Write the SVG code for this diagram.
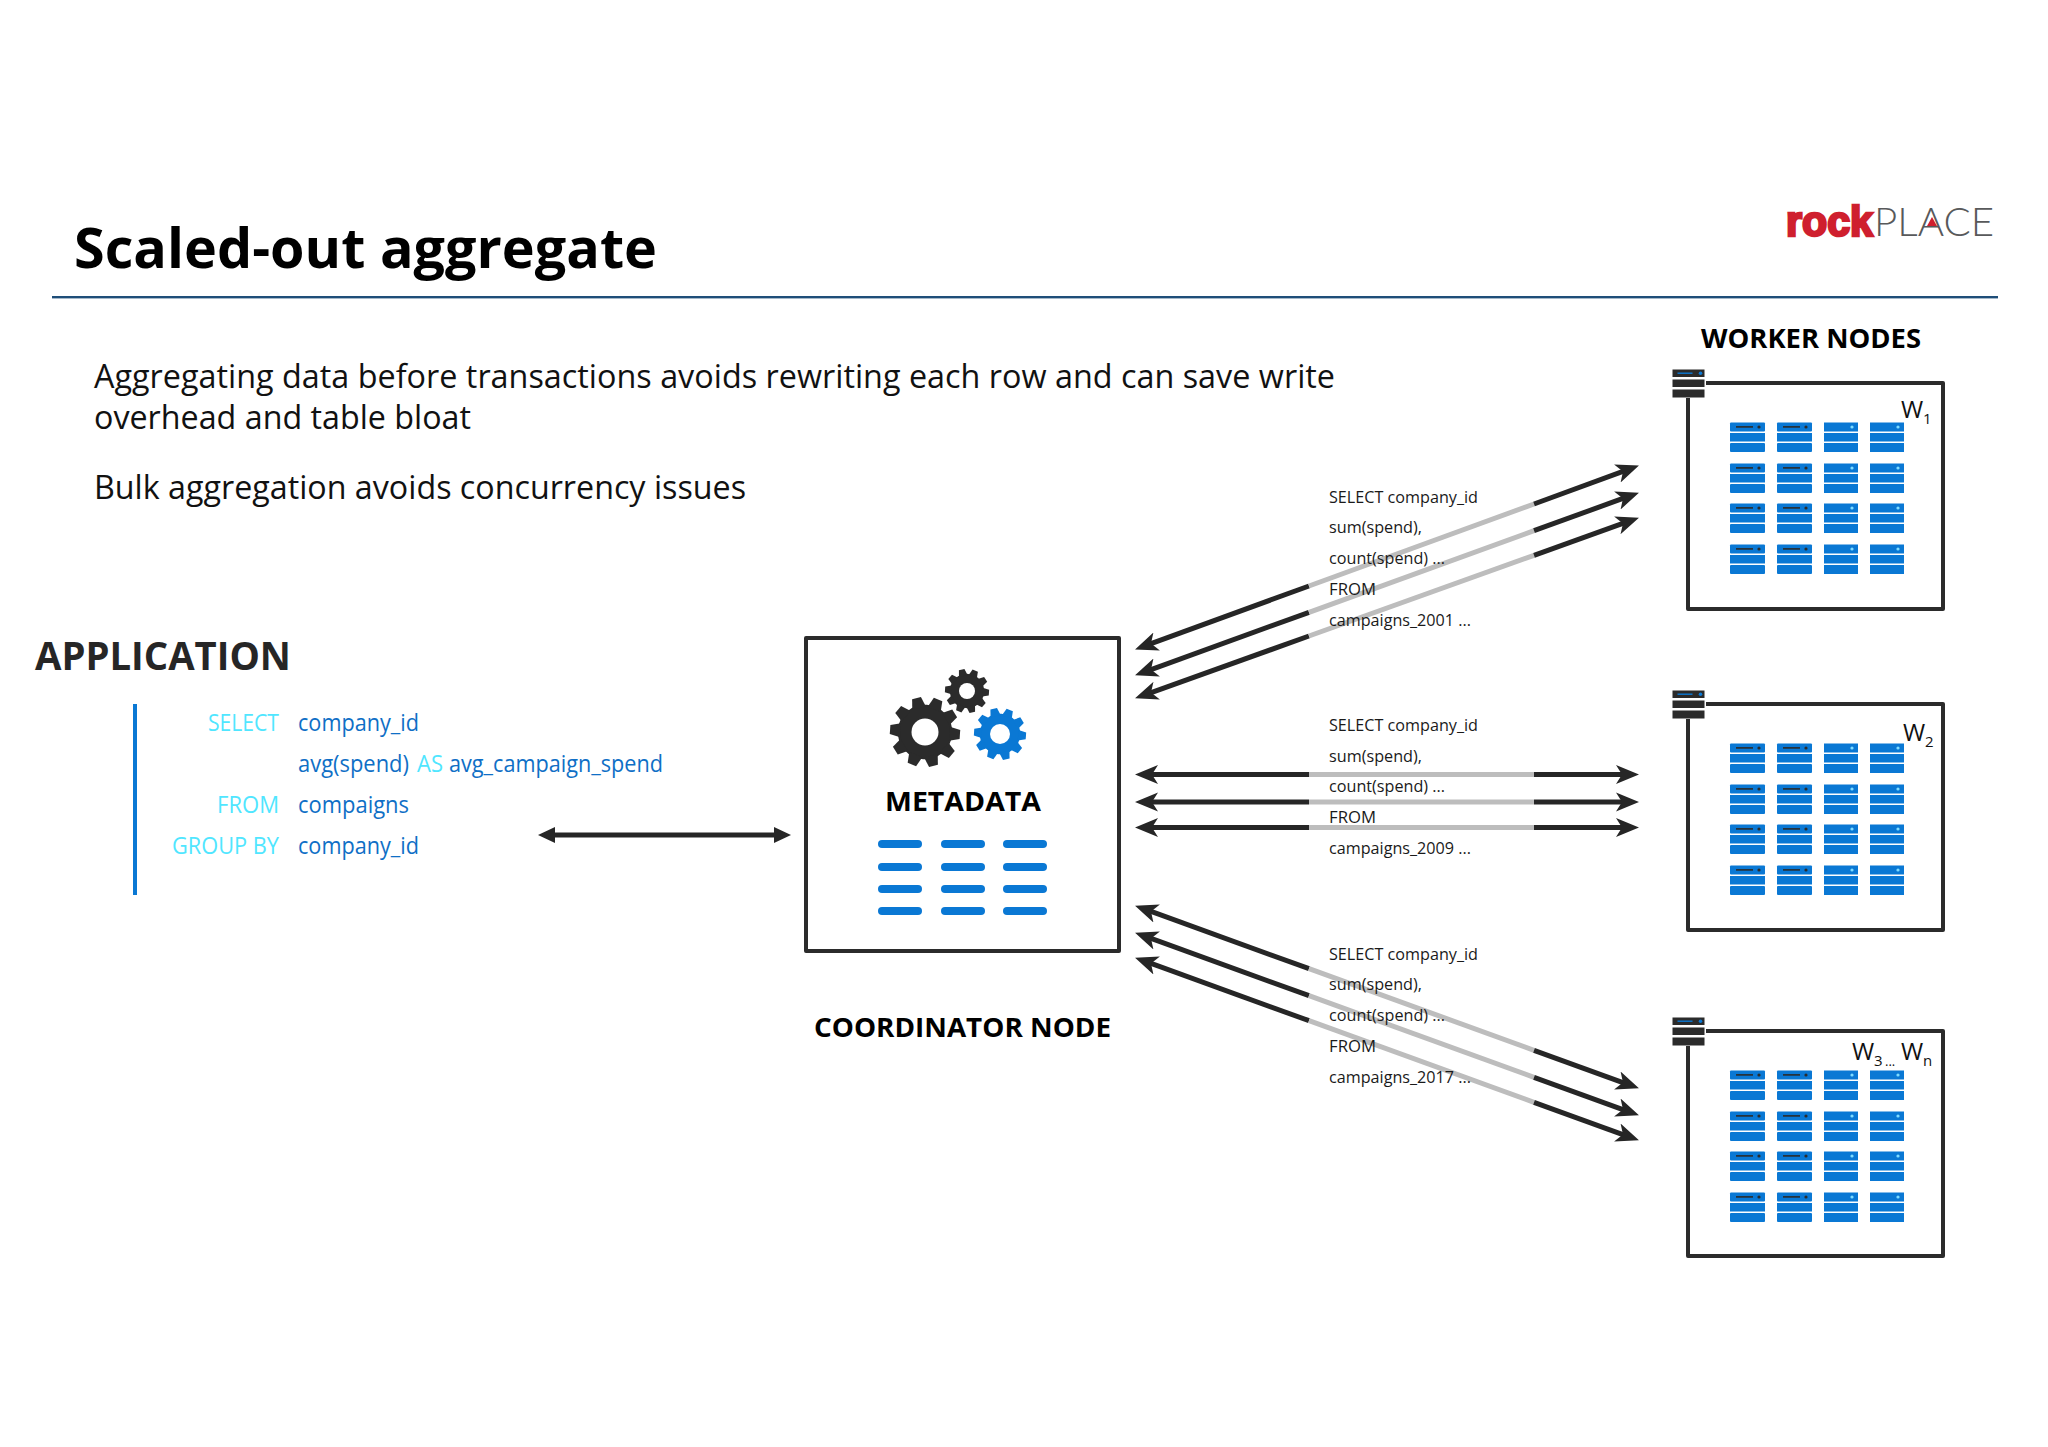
<svg xmlns="http://www.w3.org/2000/svg" xmlns:xlink="http://www.w3.org/1999/xlink" width="2048" height="1447" viewBox="0 0 2048 1447">
<style>
text{font-family:"Open Sans","Noto Sans","Liberation Sans",sans-serif}
.h{font-weight:700;fill:#000}
.body{font-size:32px;fill:#111}
.kw{font-size:23px;fill:#50e6ff}
.val{font-size:23px;fill:#0f6fc6}
.sql{font-size:17px;fill:#1a1a1a}
.w{font-size:24px;fill:#111}
.sub{font-size:15px;fill:#111}
.l{fill:none;stroke:#262626;stroke-width:5;marker-start:url(#head)}
.r{fill:none;stroke:#262626;stroke-width:5;marker-end:url(#head)}
.gray{fill:none;stroke:#bdbdbd;stroke-width:5}
.box{fill:#fff;stroke:#2b2b2b;stroke-width:4;stroke-linejoin:round}
.bar{fill:#0a78d4}
.dk{fill:#2b2b2b}
</style>
<defs>
<marker id="head" markerUnits="userSpaceOnUse" markerWidth="24" markerHeight="20" refX="14" refY="10" orient="auto-start-reverse" viewBox="0 0 24 20"><path d="M23 10 L0 0.5 L6 10 L0 19.500 Z" fill="#262626"/></marker>
<marker id="headApp" markerUnits="userSpaceOnUse" markerWidth="18" markerHeight="18" refX="8" refY="9" orient="auto-start-reverse" viewBox="0 0 18 18"><path d="M17 9 L0 1 L0 17 Z" fill="#262626"/></marker>
<g id="gear">
<circle r="0.78"/>
<polygon points="-0.2,-0.7 -0.13,-1 0.13,-1 0.2,-0.7" transform="rotate(18)"/>
<polygon points="-0.2,-0.7 -0.13,-1 0.13,-1 0.2,-0.7" transform="rotate(54)"/>
<polygon points="-0.2,-0.7 -0.13,-1 0.13,-1 0.2,-0.7" transform="rotate(90)"/>
<polygon points="-0.2,-0.7 -0.13,-1 0.13,-1 0.2,-0.7" transform="rotate(126)"/>
<polygon points="-0.2,-0.7 -0.13,-1 0.13,-1 0.2,-0.7" transform="rotate(162)"/>
<polygon points="-0.2,-0.7 -0.13,-1 0.13,-1 0.2,-0.7" transform="rotate(198)"/>
<polygon points="-0.2,-0.7 -0.13,-1 0.13,-1 0.2,-0.7" transform="rotate(234)"/>
<polygon points="-0.2,-0.7 -0.13,-1 0.13,-1 0.2,-0.7" transform="rotate(270)"/>
<polygon points="-0.2,-0.7 -0.13,-1 0.13,-1 0.2,-0.7" transform="rotate(306)"/>
<polygon points="-0.2,-0.7 -0.13,-1 0.13,-1 0.2,-0.7" transform="rotate(342)"/>
</g>
<g id="bars">
<rect class="bar" width="44" height="8" rx="4"/>
<rect class="bar" x="63" width="44" height="8" rx="4"/>
<rect class="bar" x="125" width="44" height="8" rx="4"/>
</g>
<g id="srvA">
<rect class="bar" width="35" height="9" rx="1"/><rect class="bar" y="10.5" width="35" height="8.5"/><rect class="bar" y="20.5" width="35" height="9" rx="1"/>
<rect class="dk" x="6" y="3.6" width="17" height="1.6"/><circle class="dk" cx="29" cy="4.5" r="1.6"/>
</g>
<g id="srvB">
<rect class="bar" width="34" height="9"/><rect class="bar" y="10.5" width="34" height="8.5"/><rect class="bar" y="20.5" width="34" height="9"/>
<circle cx="28" cy="4.5" r="1.6" fill="#7fdcff"/>
</g>
<g id="row">
<use href="#srvA" x="1730"/><use href="#srvA" x="1777"/><use href="#srvB" x="1824"/><use href="#srvB" x="1870"/>
</g>
<g id="grid">
<use href="#row" y="422"/><use href="#row" y="463"/><use href="#row" y="503"/><use href="#row" y="544"/>
</g>
<g id="icon">
<rect class="dk" x="1672" y="369" width="32" height="7.5"/>
<rect class="dk" x="1672" y="379" width="32" height="7.5"/>
<rect class="dk" x="1672" y="389" width="32" height="8"/>
<rect x="1677" y="372" width="15" height="1.4" fill="#0a78d4"/><circle cx="1700" cy="372.7" r="1.8" fill="#0a78d4"/>
</g>
</defs>
<rect width="2048" height="1447" fill="#fff"/>

<g id="title">
<text class="h" x="74" y="268" font-size="55" textLength="583" lengthAdjust="spacingAndGlyphs">Scaled-out aggregate</text>
<rect x="52" y="296" width="1946" height="2.4" fill="#1f4e79"/>
</g>

<g id="logo">
<text x="1786" y="236" font-size="42" font-weight="700" fill="#cf1f2e" stroke="#cf1f2e" stroke-width="2.600" textLength="87" lengthAdjust="spacingAndGlyphs" style="font-family:'Liberation Sans',sans-serif">rock</text>
<text x="1874" y="236" font-size="39" font-weight="300" fill="#58595b" textLength="120" lengthAdjust="spacingAndGlyphs" style="font-family:Lato,'Liberation Sans',sans-serif">PLACE</text>
<polygon points="1932,217 1937,226 1927,226" fill="#cf1f2e"/>
</g>

<g id="intro">
<text class="body" x="94" y="388" textLength="1241" lengthAdjust="spacingAndGlyphs">Aggregating data before transactions avoids rewriting each row and can save write</text>
<text class="body" x="94" y="429" textLength="377" lengthAdjust="spacingAndGlyphs">overhead and table bloat</text>
<text class="body" x="94" y="499" textLength="652" lengthAdjust="spacingAndGlyphs">Bulk aggregation avoids concurrency issues</text>
</g>

<g id="application">
<text x="35" y="670" font-size="39" font-weight="700" fill="#262626" textLength="256" lengthAdjust="spacingAndGlyphs">APPLICATION</text>
<rect x="133" y="704" width="4" height="191" fill="#0a78d4"/>
<text class="kw" x="208" y="731" textLength="71" lengthAdjust="spacingAndGlyphs">SELECT</text>
<text class="val" x="298" y="731" textLength="121" lengthAdjust="spacingAndGlyphs">company_id</text>
<text class="val" x="298" y="772" textLength="111" lengthAdjust="spacingAndGlyphs">avg(spend)</text>
<text class="kw" x="417" y="772" textLength="26" lengthAdjust="spacingAndGlyphs">AS</text>
<text class="val" x="449" y="772" textLength="214" lengthAdjust="spacingAndGlyphs">avg_campaign_spend</text>
<text class="kw" x="217" y="813" textLength="62" lengthAdjust="spacingAndGlyphs">FROM</text>
<text class="val" x="298" y="813" textLength="111" lengthAdjust="spacingAndGlyphs">compaigns</text>
<text class="kw" x="172" y="854" textLength="107" lengthAdjust="spacingAndGlyphs">GROUP BY</text>
<text class="val" x="298" y="854" textLength="121" lengthAdjust="spacingAndGlyphs">company_id</text>
</g>

<g id="coordinator">
<rect class="box" x="806" y="638" width="313" height="313"/>
<use href="#gear" transform="translate(925 732) rotate(4) scale(35)" fill="#2b2b2b"/>
<circle cx="925" cy="732" r="13.500" fill="#fff"/>
<use href="#gear" transform="translate(967 691) rotate(4) scale(22)" fill="#2b2b2b"/>
<circle cx="967" cy="691" r="8" fill="#fff"/>
<use href="#gear" transform="translate(1000 734) rotate(4) scale(26)" fill="#0a78d4"/>
<circle cx="1000" cy="734" r="10" fill="#fff"/>
<text class="h" x="885" y="811" font-size="27" textLength="156" lengthAdjust="spacingAndGlyphs">METADATA</text>
<use href="#bars" x="878" y="840"/><use href="#bars" x="878" y="863"/><use href="#bars" x="878" y="885"/><use href="#bars" x="878" y="907"/>
<text class="h" x="814" y="1037" font-size="27" textLength="297" lengthAdjust="spacingAndGlyphs">COORDINATOR NODE</text>
</g>

<g id="worker-heading"><text class="h" x="1701" y="348" font-size="26" textLength="220" lengthAdjust="spacingAndGlyphs">WORKER NODES</text></g>

<g id="worker1">
<path class="box" d="M1706 383 H1943 V609 H1688 V398"/>
<use href="#icon" x="0.5" y="0.5"/>
<use href="#grid" y="0.5"/>
<text class="w" x="1901" y="418">W</text><text class="sub" x="1923" y="424">1</text>
</g>
<g id="worker2">
<path class="box" d="M1706 704 H1943 V930 H1688 V719"/>
<use href="#icon" x="0.5" y="321.500"/>
<use href="#grid" y="321.500"/>
<text class="w" x="1903" y="741">W</text><text class="sub" x="1925" y="747">2</text>
</g>
<g id="worker3">
<path class="box" d="M1706 1031 H1943 V1256 H1688 V1046"/>
<use href="#icon" x="0.5" y="648.500"/>
<use href="#grid" y="648.500"/>
<text class="w" x="1852" y="1060">W</text><text class="sub" x="1874" y="1066">3</text><text class="sub" x="1885" y="1066" style="font-size:13px">...</text><text class="w" x="1901" y="1060">W</text><text class="sub" x="1923" y="1066">n</text>
</g>

<g id="connectors">
<line x1="547" y1="835" x2="782" y2="835" fill="none" stroke="#262626" stroke-width="5" marker-start="url(#headApp)" marker-end="url(#headApp)"/>
<path class="l" d="M1143.500 646.300 L1309 586"/><path class="gray" d="M1309 586 L1534 504"/><path class="r" d="M1534 504 L1630.500 468.700"/>
<path class="l" d="M1143.500 672.300 L1309 612.300"/><path class="gray" d="M1309 612.300 L1534 530.700"/><path class="r" d="M1534 530.700 L1630.500 495.700"/>
<path class="l" d="M1143.500 695.300 L1309 636"/><path class="gray" d="M1309 636 L1534 555.300"/><path class="r" d="M1534 555.300 L1630.500 520.700"/>
<path class="l" d="M1144 774.500 H1309"/><path class="gray" d="M1309 774.500 H1534"/><path class="r" d="M1534 774.500 H1630"/>
<path class="l" d="M1144 802 H1309"/><path class="gray" d="M1309 802 H1534"/><path class="r" d="M1534 802 H1630"/>
<path class="l" d="M1144 827.500 H1309"/><path class="gray" d="M1309 827.500 H1534"/><path class="r" d="M1534 827.500 H1630"/>
<path class="l" d="M1143.500 908.700 L1309 968.700"/><path class="gray" d="M1309 968.700 L1534 1050.300"/><path class="r" d="M1534 1050.300 L1630.500 1085.300"/>
<path class="l" d="M1143.500 935.700 L1309 995.700"/><path class="gray" d="M1309 995.700 L1534 1077.300"/><path class="r" d="M1534 1077.300 L1630.500 1112.300"/>
<path class="l" d="M1143.500 960.700 L1309 1020.700"/><path class="gray" d="M1309 1020.700 L1534 1102.300"/><path class="r" d="M1534 1102.300 L1630.500 1137.300"/>
</g>

<g id="query1">
<text class="sql" x="1329" y="503" textLength="149" lengthAdjust="spacingAndGlyphs">SELECT company_id</text>
<text class="sql" x="1329" y="533" textLength="93" lengthAdjust="spacingAndGlyphs">sum(spend),</text>
<text class="sql" x="1329" y="564" textLength="116" lengthAdjust="spacingAndGlyphs">count(spend) ...</text>
<text class="sql" x="1329" y="595" textLength="47" lengthAdjust="spacingAndGlyphs">FROM</text>
<text class="sql" x="1329" y="626" textLength="142" lengthAdjust="spacingAndGlyphs">campaigns_2001 ...</text>
</g>
<g id="query2">
<text class="sql" x="1329" y="731" textLength="149" lengthAdjust="spacingAndGlyphs">SELECT company_id</text>
<text class="sql" x="1329" y="762" textLength="93" lengthAdjust="spacingAndGlyphs">sum(spend),</text>
<text class="sql" x="1329" y="792" textLength="116" lengthAdjust="spacingAndGlyphs">count(spend) ...</text>
<text class="sql" x="1329" y="823" textLength="47" lengthAdjust="spacingAndGlyphs">FROM</text>
<text class="sql" x="1329" y="854" textLength="142" lengthAdjust="spacingAndGlyphs">campaigns_2009 ...</text>
</g>
<g id="query3">
<text class="sql" x="1329" y="960" textLength="149" lengthAdjust="spacingAndGlyphs">SELECT company_id</text>
<text class="sql" x="1329" y="990" textLength="93" lengthAdjust="spacingAndGlyphs">sum(spend),</text>
<text class="sql" x="1329" y="1021" textLength="116" lengthAdjust="spacingAndGlyphs">count(spend) ...</text>
<text class="sql" x="1329" y="1052" textLength="47" lengthAdjust="spacingAndGlyphs">FROM</text>
<text class="sql" x="1329" y="1083" textLength="142" lengthAdjust="spacingAndGlyphs">campaigns_2017 ...</text>
</g>
</svg>
